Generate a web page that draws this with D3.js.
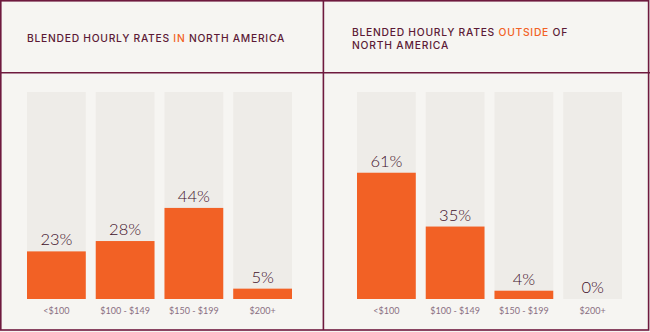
<!DOCTYPE html>
<html>
<head>
<meta charset="utf-8">
<script src="https://cdn.jsdelivr.net/npm/d3@7"></script>
<style>
html,body{margin:0;padding:0;background:#f6f5f2;}
svg{display:block;}
</style>
</head>
<body>
<svg id="chart" width="650" height="332"></svg>
<script>
const categories = ["<$100", "$100 - $149", "$150 - $199", "$200+"];
const insideValues = [23, 28, 44, 5];
const outsideValues = [61, 35, 4, 0];
const insideTitle = [["BLENDED HOURLY RATES ", false], ["IN", true], [" NORTH AMERICA", false]];
const outsideTitle1 = [["BLENDED HOURLY RATES ", false], ["OUTSIDE", true], [" OF", false]];
const outsideTitle2 = [["NORTH AMERICA", false]];

const W = 650, H = 332;
const maroon = "#6e1a3e";
const orange = "#f26125";
const svg = d3.select("#chart");

svg.append("rect").attr("x", 0).attr("y", 0).attr("width", W).attr("height", H).attr("fill", "#f6f5f2");

const y = d3.scaleLinear().domain([0, 100]).range([299, 92]);

function panel(x0, x1, values, titleX, titleLines, titleY, targetWidths) {
  const x = d3.scaleBand().domain(categories).range([x0, x1]).paddingInner(0.145).paddingOuter(0);
  const g = svg.append("g");
  g.selectAll("rect.bg").data(categories).join("rect")
    .attr("class", "bg")
    .attr("x", d => x(d)).attr("y", y(100))
    .attr("width", x.bandwidth()).attr("height", y(0) - y(100))
    .attr("fill", "#eeece8");
  g.selectAll("rect.bar").data(values).join("rect")
    .attr("class", "bar")
    .attr("x", (d, i) => x(categories[i])).attr("y", d => y(d))
    .attr("width", x.bandwidth()).attr("height", d => y(0) - y(d))
    .attr("fill", orange);
  g.selectAll("text.val").data(values).join("text")
    .attr("class", "val")
    .attr("x", (d, i) => x(categories[i]) + x.bandwidth() / 2)
    .attr("y", d => y(d) - 6)
    .attr("text-anchor", "middle")
    .attr("font-family", "Lato, 'Open Sans', sans-serif")
    .attr("font-weight", 300)
    .attr("font-size", 16.5)
    .attr("fill", "#3e0f28")
    .text(d => d + "%");
  const axis = d3.axisBottom(x).tickSize(0).tickPadding(0);
  const ag = g.append("g").attr("transform", "translate(0,307.5)").call(axis);
  ag.select(".domain").remove();
  ag.selectAll("text")
    .attr("font-family", "Lato, 'Open Sans', sans-serif")
    .attr("font-size", 9)
    .attr("fill", "#8a6f82");

  titleLines.forEach((line, li) => {
    const t = g.append("text")
      .attr("x", titleX)
      .attr("y", titleY + li * 12.5)
      .attr("font-family", "Inter, 'Open Sans', sans-serif")
      .attr("font-weight", 500)
      .attr("font-size", 10.3)
      .attr("letter-spacing", 1.2)
      .attr("fill", "#5c1a36");
    line.forEach(([s, hi]) => {
      t.append("tspan").attr("fill", hi ? orange : "#5c1a36").text(s);
    });
    // fit letter spacing to the measured width in the reference
    const tw = targetWidths[li];
    const n = line.map(l => l[0]).join("").length;
    const w0 = t.node().getComputedTextLength();
    const ls = 1.2 + (tw - w0) / n;
    t.attr("letter-spacing", ls);
  });
}

panel(27, 292, insideValues, 27, [insideTitle], 41.5, [258]);
panel(357, 622, outsideValues, 352, [outsideTitle1, outsideTitle2], 36, [216, 97]);

// borders
const lines = svg.append("g").attr("stroke", maroon).attr("stroke-width", 1.6).attr("fill", "none");
lines.append("rect").attr("x", 0.8).attr("y", 0.8).attr("width", W - 2.2).attr("height", H - 2.8);
lines.append("line").attr("x1", 323.4).attr("x2", 323.4).attr("y1", 0).attr("y2", H - 2);
lines.append("line").attr("x1", 0).attr("x2", W).attr("y1", 72.8).attr("y2", 72.8);
</script>
</body>
</html>
